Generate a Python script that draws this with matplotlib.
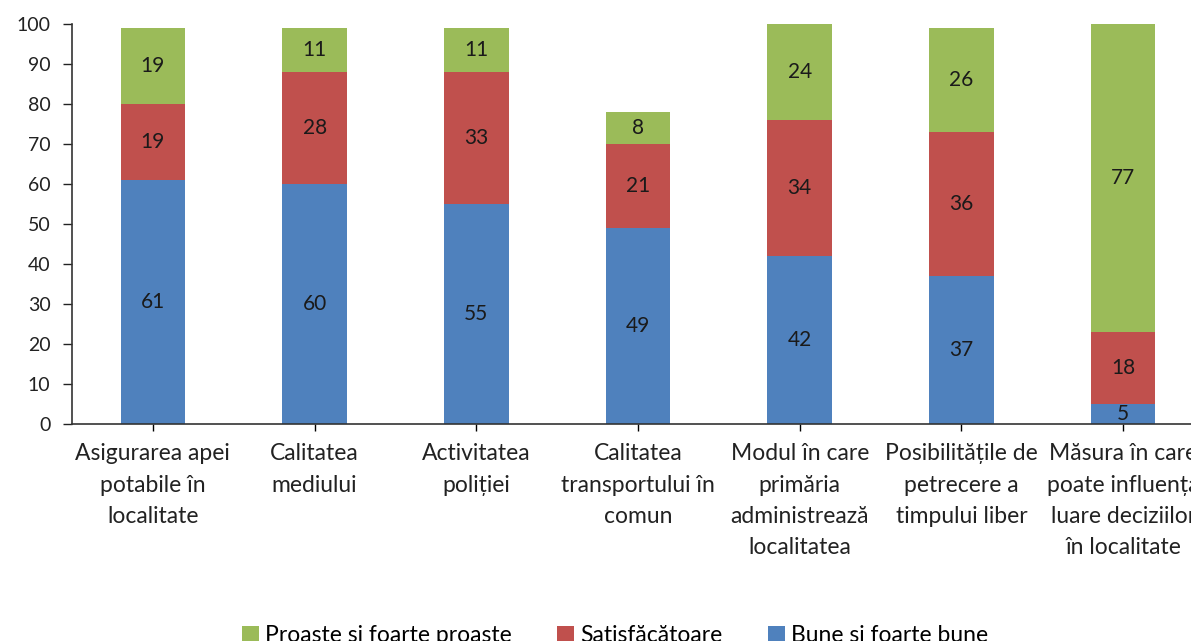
import matplotlib
matplotlib.use("Agg")
import matplotlib.pyplot as plt
import numpy as np

categories = [
    "Asigurarea apei\npotabile în\nlocalitate",
    "Calitatea\nmediului",
    "Activitatea\npoliției",
    "Calitatea\ntransportului în\ncomun",
    "Modul în care\nprimăria\nadministrează\nlocalitatea",
    "Posibilitățile de\npetrecere a\ntimpului liber",
    "Măsura în care\npoate influența\nluare deciziilor\nîn localitate",
]
bune = [61, 60, 55, 49, 42, 37, 5]
satisfacatoare = [19, 28, 33, 21, 34, 36, 18]
proaste = [19, 11, 11, 8, 24, 26, 77]

series_names = ["Bune și foarte bune", "Satisfăcătoare", "Proaste și foarte proaste"]
colors = ["#4F81BD", "#C0504D", "#9BBB59"]
y_ticks = list(range(0, 101, 10))

plt.rcParams["font.family"] = ["Lato", "DejaVu Sans"]

W, H = 1191, 641
fig = plt.figure(figsize=(W / 100, H / 100), dpi=100)
ax = fig.add_axes([72 / W, 1 - 424 / H, (1204 - 72) / W, 400 / H])

x = np.arange(len(categories))
bottom = np.zeros(len(categories))
bars = []
for vals, col, name in zip([bune, satisfacatoare, proaste], colors, series_names):
    v = np.array(vals, dtype=float)
    b = ax.bar(x, v, width=0.4, bottom=bottom, color=col, label=name,
               edgecolor="none", zorder=2)
    bars.append(b)
    for xi, bi, vi in zip(x, bottom, v):
        ax.text(xi, bi + vi / 2, f"{int(vi)}", ha="center", va="center",
                fontsize=15, color="#1a1a1a", zorder=3)
    bottom += v

ax.set_xlim(-0.5, len(categories) - 0.5)
ax.set_ylim(0, 100)
ax.set_yticks(y_ticks)
ax.tick_params(axis="y", labelsize=14, length=6.5, width=1, colors="#222222",
               pad=9)
ax.set_xticks(x)
ax.set_xticklabels(categories, fontsize=16.5, color="#222222", linespacing=1.6)
ax.tick_params(axis="x", length=5, width=1, pad=9)

for s in ["top", "right"]:
    ax.spines[s].set_visible(False)
for s in ["left", "bottom"]:
    ax.spines[s].set_color("#333333")
    ax.spines[s].set_linewidth(1.2)

handles = [bars[2], bars[1], bars[0]]
labels = [series_names[2], series_names[1], series_names[0]]
fig.legend(handles, labels, loc="center", bbox_to_anchor=(615 / W, 1 - 636 / H),
           ncol=3, frameon=False, fontsize=16.5, handlelength=0.75,
           handleheight=0.75, handletextpad=0.25, columnspacing=2.0)

fig.savefig("out.png", dpi=100, facecolor="white")
